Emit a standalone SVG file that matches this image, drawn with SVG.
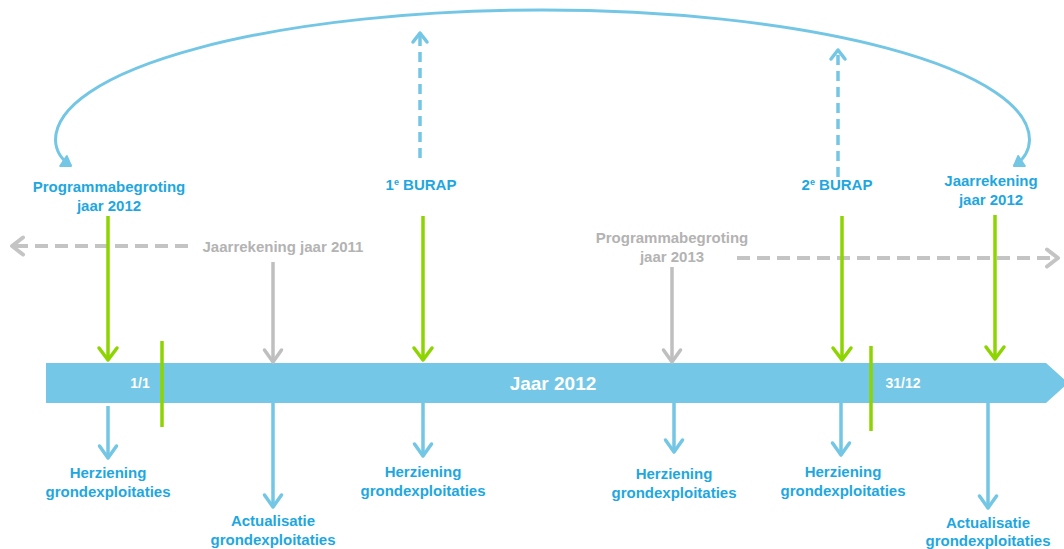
<svg xmlns="http://www.w3.org/2000/svg" width="1064" height="549" viewBox="0 0 1064 549">
<style>
text{font-family:"Liberation Sans",Arial,sans-serif;font-weight:bold;text-anchor:middle}
.bl{fill:#1ea7df;font-size:15px}
.gr{fill:#b3b3b3;font-size:15px}
.wh{fill:#ffffff}
.lg{stroke:#8dd400;stroke-width:3.5;fill:none}
.lb{stroke:#74c6e5;stroke-width:3.5;fill:none}
.lgy{stroke:#bfbfbf;stroke-width:3.5;fill:none}
.dgy{stroke:#c4c4c4;stroke-width:4;fill:none;stroke-dasharray:13 7}
.dbl{stroke:#74c6e5;stroke-width:3.5;fill:none;stroke-dasharray:10 6}
</style>
<defs>
<marker id="ag" markerUnits="userSpaceOnUse" viewBox="0 0 22 22" markerWidth="22" markerHeight="22" refX="19" refY="11" orient="auto" overflow="visible"><path d="M7,2 L19,11 L7,20" fill="none" stroke="#8dd400" stroke-width="3.5" stroke-linecap="round" stroke-linejoin="round"/></marker>
<marker id="ab" markerUnits="userSpaceOnUse" viewBox="0 0 22 22" markerWidth="22" markerHeight="22" refX="19" refY="11" orient="auto" overflow="visible"><path d="M7,2.5 L19,11 L7,19.5" fill="none" stroke="#74c6e5" stroke-width="3.5" stroke-linecap="round" stroke-linejoin="round"/></marker>
<marker id="agy" markerUnits="userSpaceOnUse" viewBox="0 0 22 22" markerWidth="22" markerHeight="22" refX="19" refY="11" orient="auto" overflow="visible"><path d="M7,2.5 L19,11 L7,19.5" fill="none" stroke="#bfbfbf" stroke-width="3.5" stroke-linecap="round" stroke-linejoin="round"/></marker>
<marker id="adg" markerUnits="userSpaceOnUse" viewBox="0 0 22 22" markerWidth="22" markerHeight="22" refX="19" refY="11" orient="auto" overflow="visible"><path d="M8,2.5 L19,11 L8,19.5" fill="none" stroke="#c4c4c4" stroke-width="4" stroke-linecap="round" stroke-linejoin="round"/></marker>
<marker id="adb" markerUnits="userSpaceOnUse" viewBox="0 0 22 22" markerWidth="22" markerHeight="22" refX="19" refY="11" orient="auto" overflow="visible"><path d="M10,4 L19,11 L10,18" fill="none" stroke="#74c6e5" stroke-width="3.5" stroke-linecap="round" stroke-linejoin="round"/></marker>
<marker id="aa" markerUnits="userSpaceOnUse" viewBox="0 0 22 22" markerWidth="22" markerHeight="22" refX="19" refY="11" orient="auto-start-reverse" overflow="visible"><path d="M10,5 L19,11 L10,17 Z" fill="#74c6e5" stroke="#74c6e5" stroke-width="2" stroke-linejoin="round"/></marker>
</defs>

<g id="timeline">
<polygon points="46,363 1046,363 1068,383 1046,403 46,403" fill="#74c7e6"/>
<text class="wh" x="553" y="390" font-size="19">Jaar 2012</text>
<text class="wh" x="140" y="388" font-size="14">1/1</text>
<text class="wh" x="903" y="388" font-size="14">31/12</text>
</g>

<g id="connectors">
<path d="M71,166 Q56,156 55.5,140 A487 130 0 0 1 1029.5,140 Q1029,156 1014,166" fill="none" stroke="#74c6e5" stroke-width="3" marker-start="url(#aa)" marker-end="url(#aa)"/>
<line class="dbl" x1="420" y1="158" x2="420" y2="33" marker-end="url(#adb)"/>
<line class="dbl" x1="838" y1="177" x2="838" y2="50" marker-end="url(#adb)"/>
<line class="dgy" x1="188" y1="246" x2="12" y2="246" marker-end="url(#adg)"/>
<line class="dgy" x1="737" y1="258" x2="1058" y2="258" marker-end="url(#adg)"/>
<line class="lg" x1="108" y1="216" x2="108" y2="360" marker-end="url(#ag)"/>
<line class="lg" x1="423" y1="216" x2="423" y2="360" marker-end="url(#ag)"/>
<line class="lg" x1="842" y1="216" x2="842" y2="360" marker-end="url(#ag)"/>
<line class="lg" x1="995" y1="215" x2="995" y2="359" marker-end="url(#ag)"/>
<line class="lgy" x1="273" y1="262" x2="273" y2="362" marker-end="url(#agy)"/>
<line class="lgy" x1="672" y1="267" x2="672" y2="362" marker-end="url(#agy)"/>
<line class="lg" x1="162" y1="341" x2="162" y2="427"/>
<line class="lg" x1="871" y1="346" x2="871" y2="431"/>
<line class="lb" x1="108" y1="406" x2="108" y2="458" marker-end="url(#ab)"/>
<line class="lb" x1="273" y1="403" x2="273" y2="507" marker-end="url(#ab)"/>
<line class="lb" x1="423" y1="403" x2="423" y2="456" marker-end="url(#ab)"/>
<line class="lb" x1="674" y1="403" x2="674" y2="452" marker-end="url(#ab)"/>
<line class="lb" x1="841" y1="403" x2="841" y2="455" marker-end="url(#ab)"/>
<line class="lb" x1="988" y1="403" x2="988" y2="508" marker-end="url(#ab)"/>
</g>

<g id="n-progbeg2012"><text class="bl" x="109" y="192">Programmabegroting</text><text class="bl" x="109" y="211">jaar 2012</text></g>
<g id="n-burap1"><text class="bl" x="421" y="190">1<tspan font-size="9" dy="-5">e</tspan><tspan dy="5"> BURAP</tspan></text></g>
<g id="n-burap2"><text class="bl" x="837" y="190">2<tspan font-size="9" dy="-5">e</tspan><tspan dy="5"> BURAP</tspan></text></g>
<g id="n-jaarrek2012"><text class="bl" x="991" y="186">Jaarrekening</text><text class="bl" x="991" y="205">jaar 2012</text></g>
<g id="n-jaarrek2011"><text class="gr" x="283" y="252">Jaarrekening jaar 2011</text></g>
<g id="n-progbeg2013"><text class="gr" x="672" y="243">Programmabegroting</text><text class="gr" x="672" y="262">jaar 2013</text></g>

<g id="n-herz1"><text class="bl" x="108" y="478">Herziening</text><text class="bl" x="108" y="497">grondexploitaties</text></g>
<g id="n-act1"><text class="bl" x="273" y="526">Actualisatie</text><text class="bl" x="273" y="545">grondexploitaties</text></g>
<g id="n-herz2"><text class="bl" x="423" y="477">Herziening</text><text class="bl" x="423" y="496">grondexploitaties</text></g>
<g id="n-herz3"><text class="bl" x="674" y="479">Herziening</text><text class="bl" x="674" y="498">grondexploitaties</text></g>
<g id="n-herz4"><text class="bl" x="843" y="477">Herziening</text><text class="bl" x="843" y="496">grondexploitaties</text></g>
<g id="n-act2"><text class="bl" x="988" y="528">Actualisatie</text><text class="bl" x="988" y="546">grondexploitaties</text></g>
</svg>
